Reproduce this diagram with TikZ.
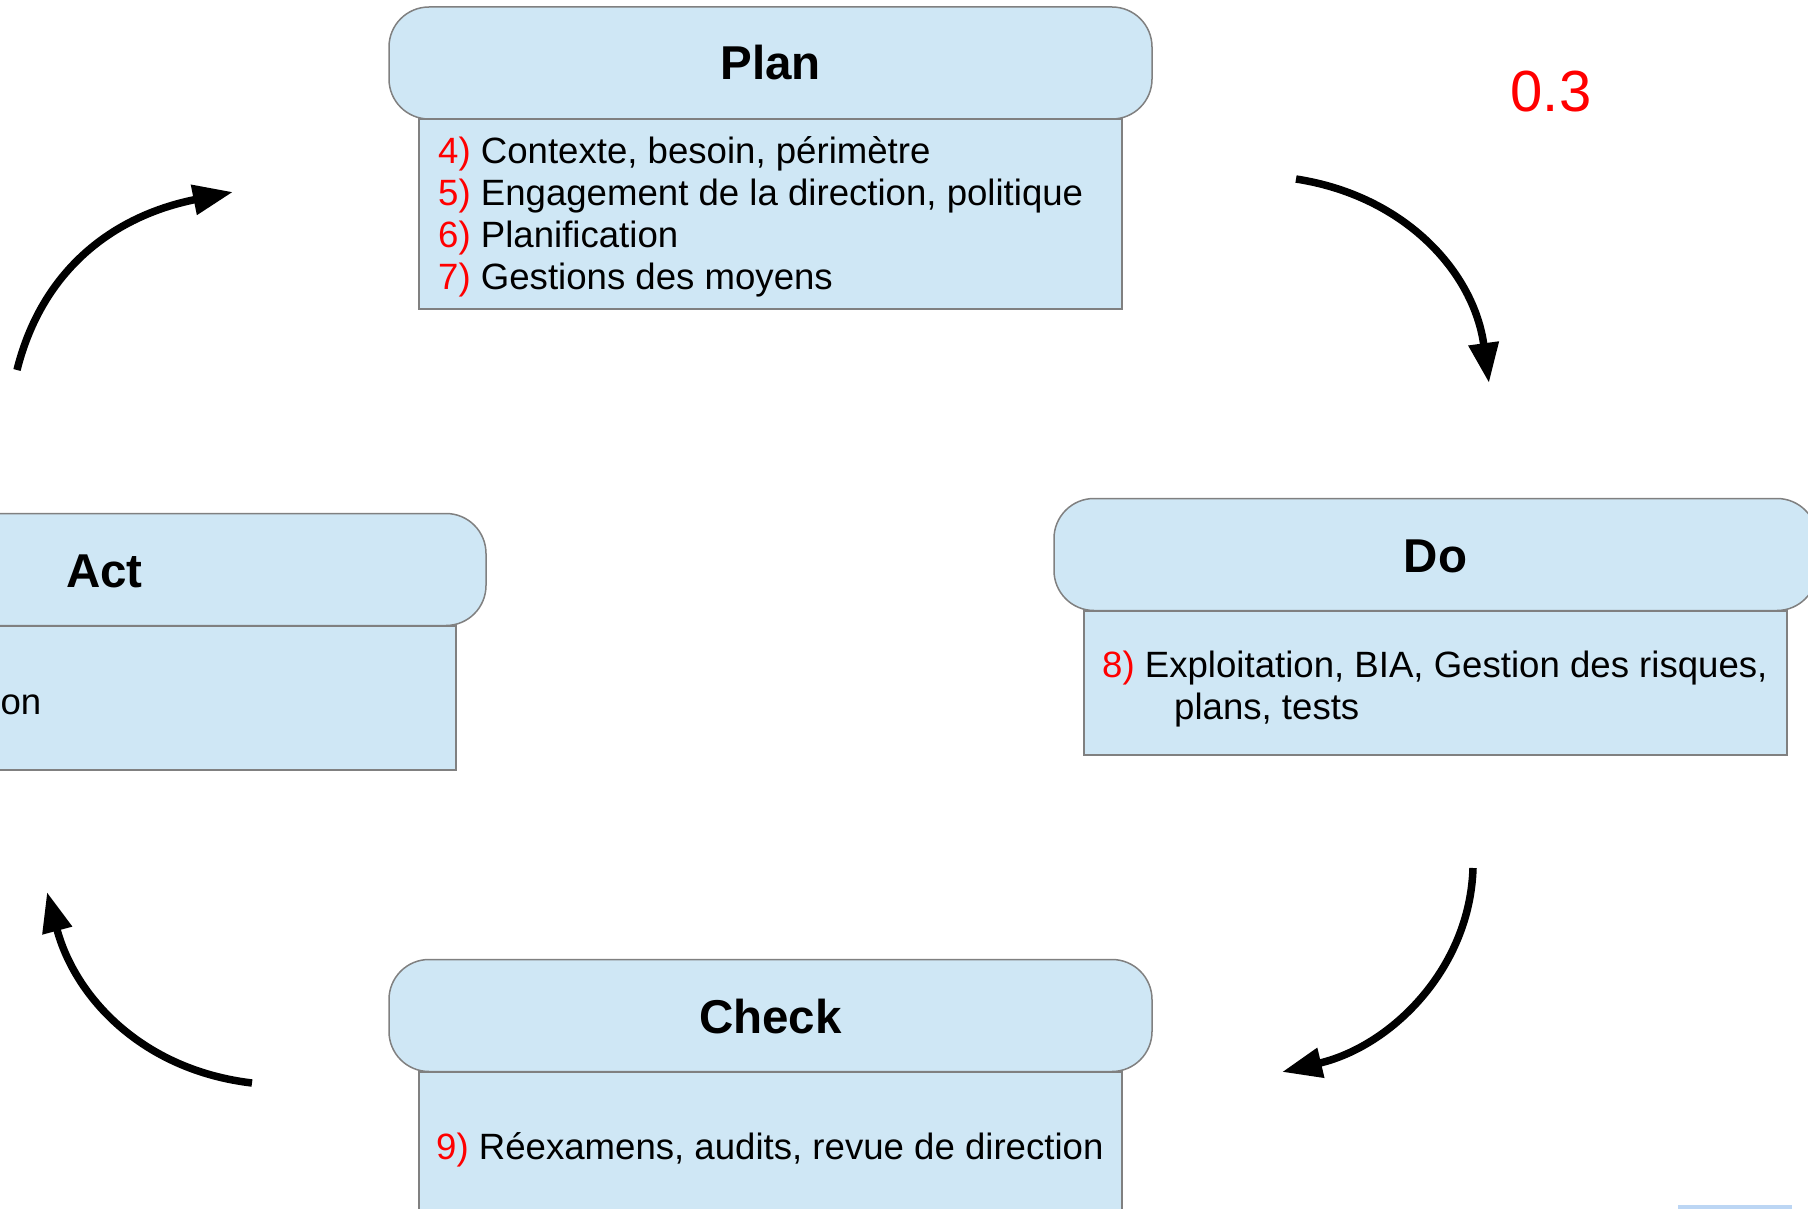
\documentclass[tikz,border=0pt]{standalone}
\usepackage{fontspec}
\setmainfont{Liberation Sans}
\usetikzlibrary{arrows.meta}

\definecolor{boxfill}{HTML}{CFE7F5}
\definecolor{boxline}{HTML}{808080}
\definecolor{numred}{HTML}{FF0000}
\definecolor{tabblue}{HTML}{BCD6F4}

\newcommand{\stepno}[1]{\textcolor{numred}{#1)}}

\tikzset{
  headbox/.style={draw=boxline, fill=boxfill, line width=1.5pt, rounded corners=40pt,
    minimum width=763pt, minimum height=112pt, inner sep=0pt},
  bodybox/.style={draw=boxline, fill=boxfill, line width=1.5pt,
    minimum width=703pt, inner sep=0pt},
  phase/.style={font=\fontsize{47.5}{57}\selectfont\bfseries, anchor=base, inner sep=0pt},
  item/.style={font=\fontsize{36.6}{42}\selectfont, anchor=base west, inner sep=0pt},
  cyclearrow/.style={line width=7.5pt, -{Triangle[length=40pt,width=29pt]}},
}

\begin{document}
\begin{tikzpicture}[x=1pt, y=-1pt]
  \useasboundingbox (0,0) rectangle (1808,1209);
  \clip (0,0) rectangle (1808,1209);

  % Plan
  \node[bodybox, minimum height=190pt] (planbody) at (770.5,214) {};
  \node[headbox] (planhead) at (770.5,63) {};
  \node[phase] (plantitle) at (770.5,80) {Plan};
  \node[item] (plan4) at (438,164) {\stepno{4} Contexte, besoin, périmètre};
  \node[item] (plan5) at (438,206) {\stepno{5} Engagement de la direction, politique};
  \node[item] (plan6) at (438,248) {\stepno{6} Planification};
  \node[item] (plan7) at (438,290) {\stepno{7} Gestions des moyens};

  % Do
  \node[bodybox, minimum height=144pt] (dobody) at (1435.5,683) {};
  \node[headbox] (dohead) at (1435.5,554.5) {};
  \node[phase] (dotitle) at (1435.5,572) {Do};
  \node[item] (do8) at (1102,677) {\stepno{8} Exploitation, BIA, Gestion des risques,};
  \node[item] (do8b) at (1174,719) {plans, tests};

  % Check
  \node[bodybox, minimum height=188pt] (checkbody) at (770.5,1166) {};
  \node[headbox] (checkhead) at (770.5,1015.5) {};
  \node[phase] (checktitle) at (770.5,1033) {Check};
  \node[item] (check9) at (436,1159) {\stepno{9} Réexamens, audits, revue de direction};

  % Act
  \node[bodybox, minimum height=144pt] (actbody) at (104.5,698) {};
  \node[headbox] (acthead) at (104.5,569.5) {};
  \node[phase] (acttitle) at (104.5,587) {Act};
  \node[item, anchor=base east] (act10) at (41.5,714) {on};

  % version number
  \node[font=\fontsize{58}{70}\selectfont, text=numred, anchor=base, inner sep=0pt]
    (version) at (1551,112) {0.3};

  % cycle arrows
  \coordinate (a1s) at (17,370);   \coordinate (a1e) at (233,192);
  \coordinate (a2s) at (1296,179); \coordinate (a2e) at (1489,383);
  \coordinate (a3s) at (1473,868); \coordinate (a3e) at (1282,1072);
  \coordinate (a4s) at (252,1083); \coordinate (a4e) at (47,892);

  \draw[cyclearrow] (a1s) .. controls (42,270) and (113,216) .. (a1e);
  \draw[cyclearrow] (a2s) .. controls (1406,196) and (1474,273) .. (a2e);
  \draw[cyclearrow] (a3s) .. controls (1470,968) and (1392,1046) .. (a3e);
  \draw[cyclearrow] (a4s) .. controls (142,1070) and (75,997) .. (a4e);

  % small tab at the lower right edge
  \fill[tabblue] (1678,1205) rectangle (1792,1212);
\end{tikzpicture}
\end{document}
